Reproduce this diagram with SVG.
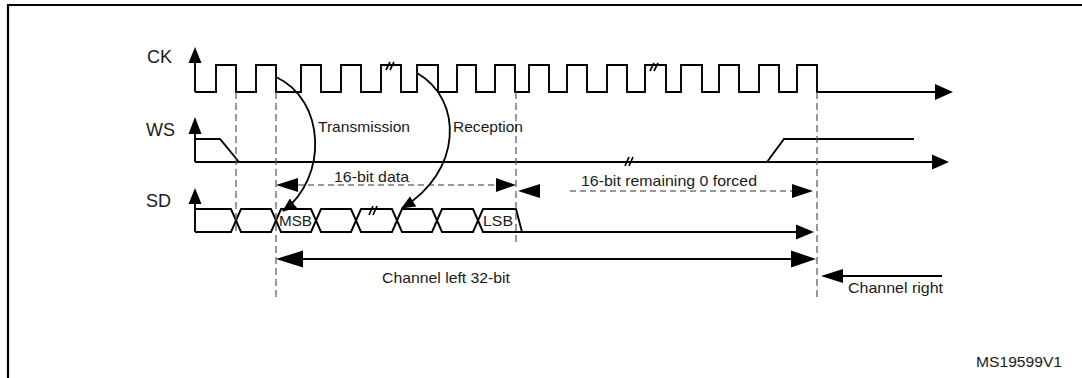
<svg xmlns="http://www.w3.org/2000/svg" width="1082" height="378" viewBox="0 0 1082 378">
<defs>
<style>
.sig{fill:none;stroke:#000;stroke-width:1.9;stroke-linejoin:miter}
.ah{fill:#000;stroke:none}
.dash{fill:none;stroke:#555;stroke-width:1.2;stroke-dasharray:7 4}
.dline{fill:none;stroke:#333;stroke-width:1.2;stroke-dasharray:6 4}
.brk{stroke:#000;stroke-width:1.7}
.t{font-family:"Liberation Sans",Arial,sans-serif;font-size:15px;fill:#1a1a1a}
.lbl{font-family:"Liberation Sans",Arial,sans-serif;font-size:18px;fill:#1a1a1a}
.curve{fill:none;stroke:#000;stroke-width:1.8}
</style>
<marker id="arr" viewBox="0 0 14 12" refX="13" refY="6" markerWidth="14" markerHeight="12" markerUnits="userSpaceOnUse" orient="auto">
<path d="M0,0 L14,6 L0,12 Z" fill="#000"/>
</marker>
</defs>
<rect width="1082" height="378" fill="#fff"/>
<g id="frame">
<path d="M8,378 V5 H1082" fill="none" stroke="#000" stroke-width="2.2"/>
</g>
<g id="ck">
<text class="lbl" x="147" y="63">CK</text>
<path class="sig" d="M195,63 V92"/>
<polygon class="ah" points="195,47 188.5,63 201.5,63"/>
<path class="sig" d="M195,92 H216 V65 H236 V92 H256 V65 H276 V92 H301 V65 H321 V92 H341 V65 H361 V92 H381 V65 H401 V92 H417 V65 H438 V92 H457 V65 H476 V92 H495 V65 H515 V92 H529 V65 H549 V92 H567 V65 H587 V92 H607 V65 H627 V92 H645 V65 H666 V92 H681 V65 H702 V92 H719 V65 H739 V92 H759 V65 H779 V92 H797 V65 H817 V92 H938"/>
<polygon class="ah" points="953,92 935,84 935,100"/>
<line class="brk" x1="386" y1="70" x2="390" y2="62"/>
<line class="brk" x1="390" y1="70" x2="394" y2="62"/>
<line class="brk" x1="650" y1="71" x2="654" y2="63"/>
<line class="brk" x1="654" y1="71" x2="658" y2="63"/>
</g>
<g id="ws">
<text class="lbl" x="146" y="136">WS</text>
<path class="sig" d="M195,134 V162"/>
<polygon class="ah" points="195,117 188.5,134 201.5,134"/>
<path class="sig" d="M195,139 H220 L239,162"/>
<path class="sig" d="M195,162 H934"/>
<polygon class="ah" points="949,162 932,154.5 932,169.5"/>
<path class="sig" d="M767,162 L784,139 H914"/>
<line class="brk" x1="625" y1="166" x2="629" y2="157"/>
<line class="brk" x1="629" y1="166" x2="633" y2="157"/>
</g>
<g id="sd">
<text class="lbl" x="146" y="207">SD</text>
<path class="sig" d="M195,203 V232"/>
<polygon class="ah" points="195,188 188.5,204 201.5,204"/>
<path class="sig" d="M195,209 H231 L241,232 H271 L281,209 H311 L321,232 H351 L361,209 H392 L402,232 H432 L442,209 H473 L483,232 H800"/>
<path class="sig" d="M195,232 H231 L241,209 H271 L281,232 H311 L321,209 H351 L361,232 H392 L402,209 H432 L442,232 H473 L483,209 H516 L522,232"/>
<polygon class="ah" points="814,232 796,224.5 796,239.5"/>
<line class="brk" x1="369" y1="215" x2="373" y2="206"/>
<line class="brk" x1="373" y1="215" x2="377" y2="206"/>
<text class="t" x="279" y="226" textLength="33" lengthAdjust="spacingAndGlyphs">MSB</text>
<text class="t" x="483" y="226" textLength="30" lengthAdjust="spacingAndGlyphs">LSB</text>
</g>
<g id="guides">
<line class="dash" x1="236" y1="92" x2="236" y2="232"/>
<line class="dash" x1="276" y1="92" x2="276" y2="300"/>
<line class="dash" x1="516" y1="92" x2="516" y2="243"/>
<line class="dash" x1="817" y1="92" x2="817" y2="300"/>
</g>
<g id="connectors">
<path class="curve" d="M276,77 C326,100 328,178 283,211" marker-end="url(#arr)"/>
<path class="curve" d="M417,73 C464,100 462,172 402,208" marker-end="url(#arr)"/>
<text class="t" x="318" y="132" textLength="92" lengthAdjust="spacingAndGlyphs">Transmission</text>
<text class="t" x="453" y="132" textLength="70" lengthAdjust="spacingAndGlyphs">Reception</text>
</g>
<g id="data16">
<line class="dline" x1="298" y1="185" x2="497" y2="185"/>
<polygon class="ah" points="276,185 298,178 298,192"/>
<polygon class="ah" points="516,185 496,178 496,192"/>
<text class="t" x="334" y="182" textLength="75" lengthAdjust="spacingAndGlyphs">16-bit data</text>
</g>
<g id="remaining16">
<line class="dline" x1="570" y1="191" x2="793" y2="191"/>
<polygon class="ah" points="518,191 540,184 540,198"/>
<polygon class="ah" points="813,191 792,184 792,198"/>
<text class="t" x="581" y="186" textLength="176" lengthAdjust="spacingAndGlyphs">16-bit remaining 0 forced</text>
</g>
<g id="chleft">
<line class="sig" x1="300" y1="259" x2="795" y2="259"/>
<polygon class="ah" points="276,259 303,250.5 303,267.5"/>
<polygon class="ah" points="816,259 791,250.5 791,267.5"/>
<text class="t" x="382" y="283" textLength="128" lengthAdjust="spacingAndGlyphs">Channel left 32-bit</text>
</g>
<g id="chright">
<line class="sig" x1="840" y1="276" x2="942" y2="276"/>
<polygon class="ah" points="821,276 843,269 843,283"/>
<text class="t" x="848" y="293" textLength="95" lengthAdjust="spacingAndGlyphs">Channel right</text>
</g>
<text class="t" x="976" y="367" textLength="86" lengthAdjust="spacingAndGlyphs">MS19599V1</text>
</svg>
